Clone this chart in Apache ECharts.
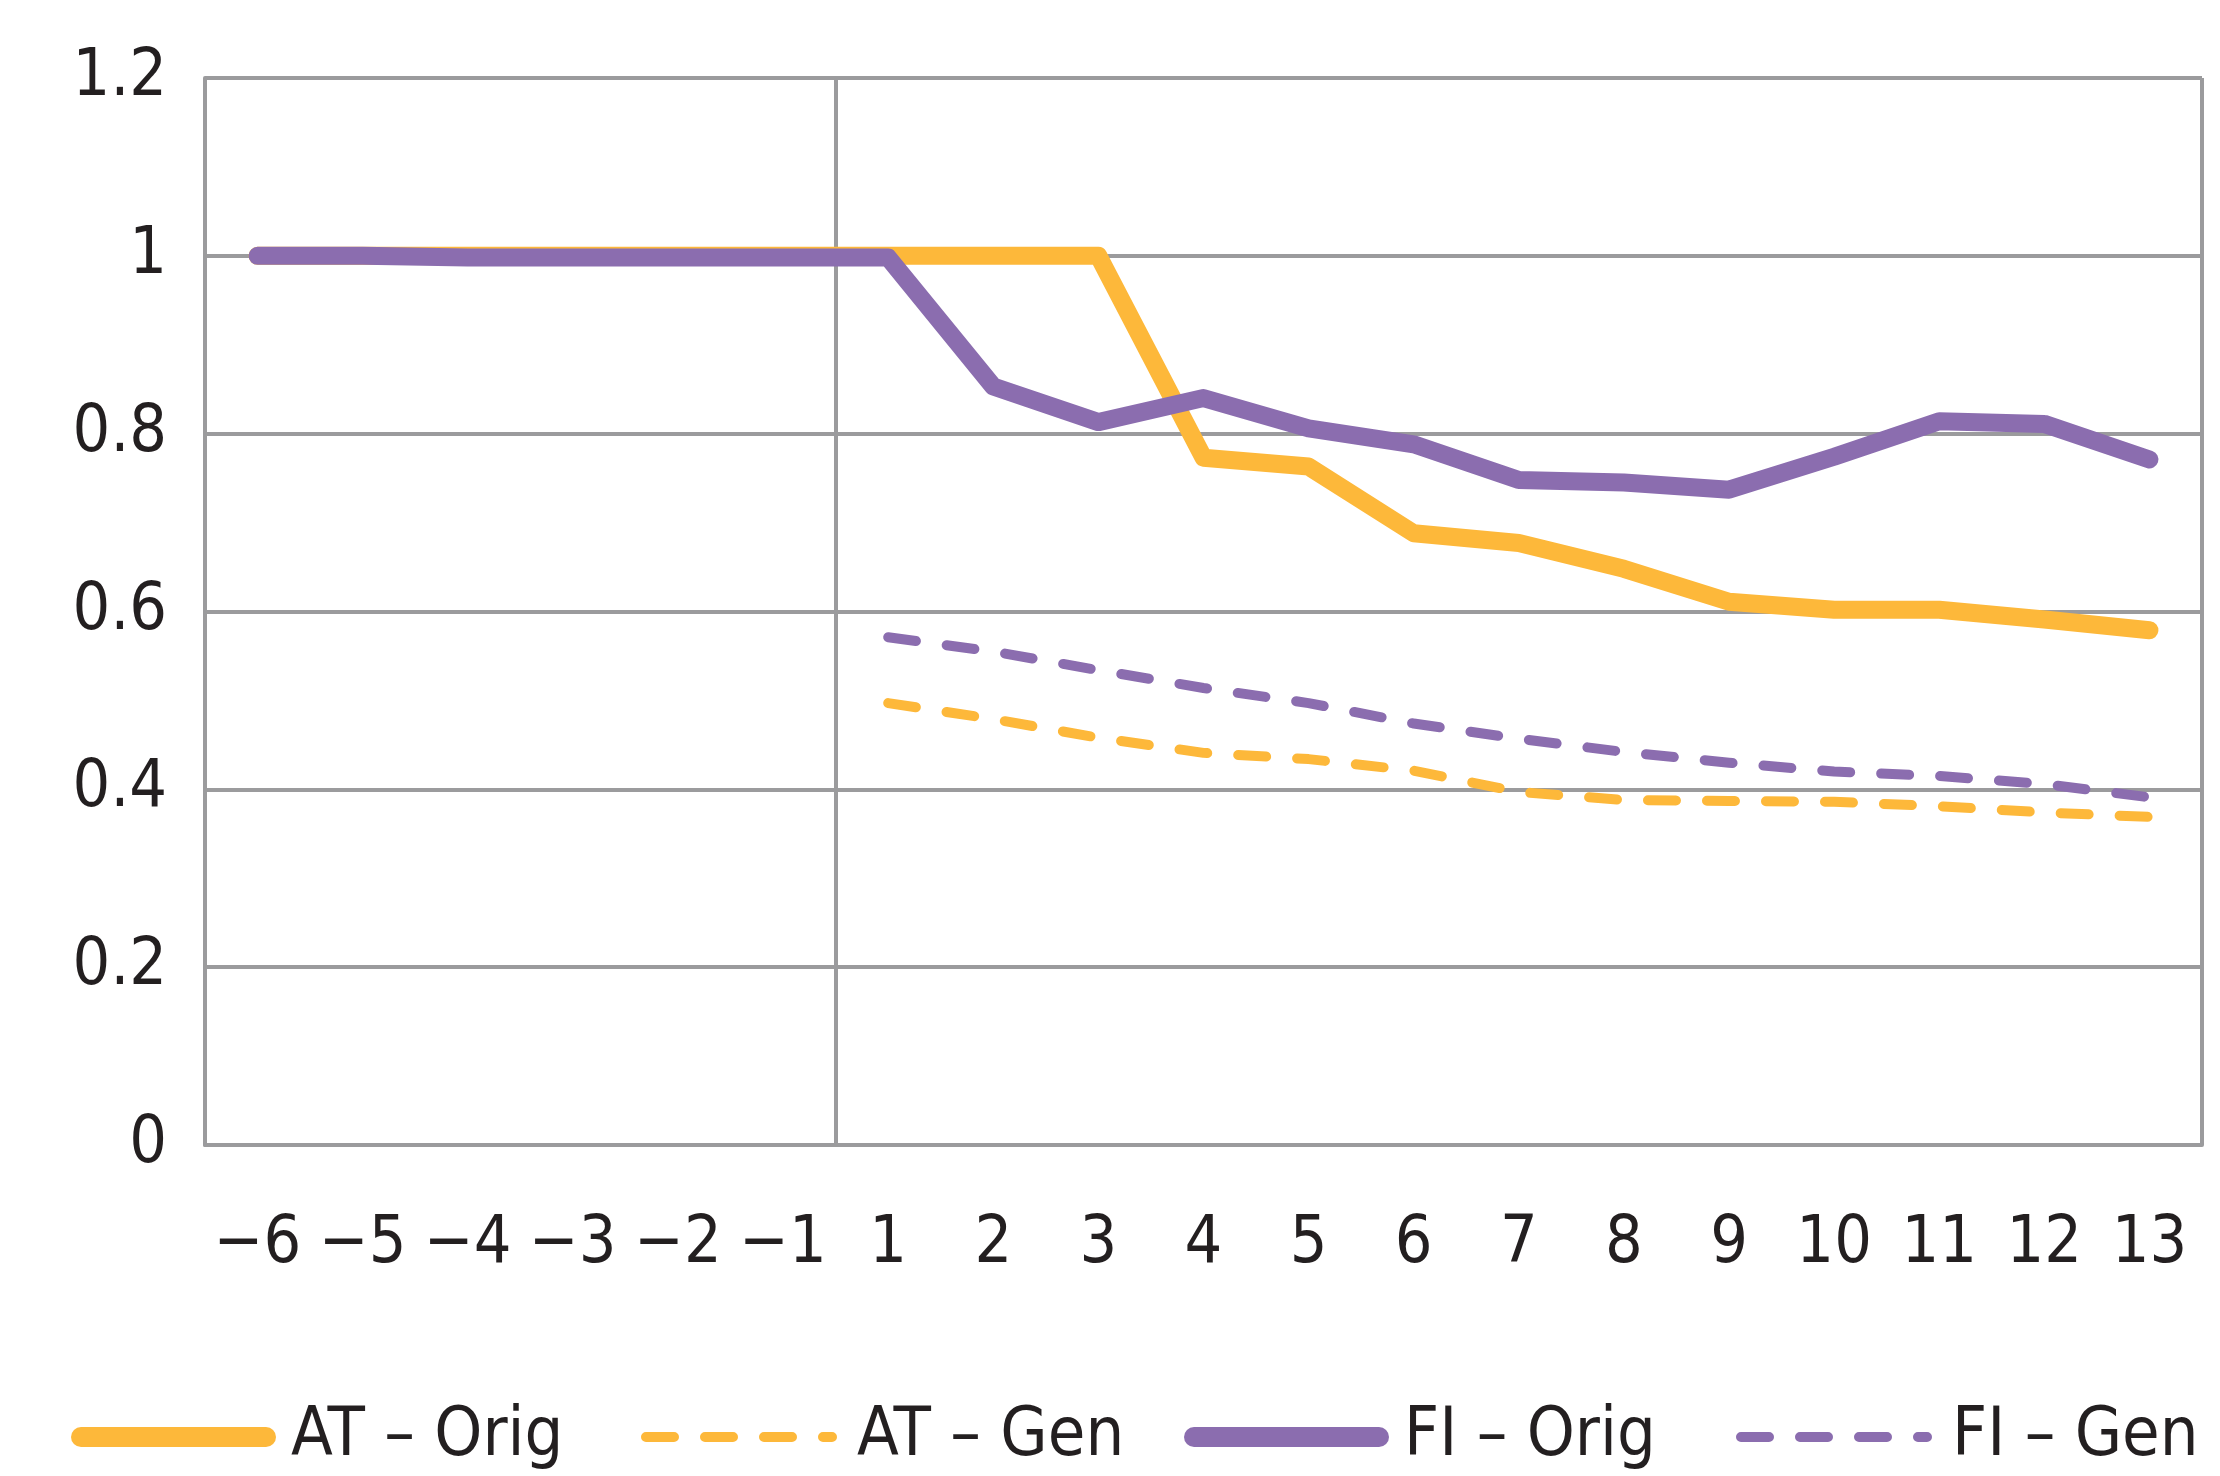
<!DOCTYPE html>
<html>
<head>
<meta charset="utf-8">
<script src="https://cdn.jsdelivr.net/npm/echarts@6/dist/echarts.min.js"></script>
<style>
html,body{margin:0;padding:0;background:#fff;}
#chart{width:2220px;height:1476px;}
</style>
</head>
<body>
<div id="chart"></div>
<script>
const categories = ['\u22126','\u22125','\u22124','\u22123','\u22122','\u22121','1','2','3','4','5','6','7','8','9','10','11','12','13'];
const atOrig = [1,1,1,1,1,1,1,1,1,0.773,0.763,0.688,0.677,0.648,0.611,0.602,0.602,0.591,0.579];
const atGen  = [null,null,null,null,null,null,0.497,0.479,0.458,0.441,0.434,0.421,0.397,0.388,0.387,0.386,0.381,0.374,0.369];
const fiOrig = [1,1,0.998,0.998,0.998,0.998,0.998,0.853,0.813,0.840,0.806,0.788,0.748,0.745,0.737,0.774,0.814,0.811,0.771];
const fiGen  = [null,null,null,null,null,null,0.571,0.555,0.534,0.514,0.497,0.474,0.457,0.442,0.430,0.420,0.415,0.406,0.391];
const seriesNames = ['AT \u2013 Orig','AT \u2013 Gen','FI \u2013 Orig','FI \u2013 Gen'];

const ORANGE = '#FDB83A';
const PURPLE = '#8B6DAF';
const GRAY = '#9B9B9D';
const TEXT = '#231F20';
const FONT = "'DejaVu Sans Condensed', 'Liberation Sans Narrow', sans-serif";
const DASH = [28, 31];

const chart = echarts.init(document.getElementById('chart'), null, {renderer: 'canvas'});

function legendFor(name, left, width, dashed) {
  return {
    data: [name],
    left: left,
    top: 1403,
    padding: 0,
    itemWidth: dashed ? 186 : 185,
    itemHeight: 20,
    selectedMode: false,
    itemStyle: {color: 'rgba(0,0,0,0)', borderWidth: 0, opacity: 0},
    lineStyle: {width: width, type: dashed ? DASH : 'solid', cap: 'round'},
    textStyle: {fontFamily: FONT, fontSize: 68, color: TEXT, padding: [8, 0, 0, 20]}
  };
}

const option = {
  backgroundColor: '#fff',
  animation: false,
  grid: {left: 205, right: 18, top: 78, bottom: 331, containLabel: false, outerBoundsMode: 'none'},
  xAxis: {
    type: 'category',
    data: categories,
    boundaryGap: true,
    axisLine: {show: true, lineStyle: {color: GRAY, width: 4}},
    axisTick: {show: false},
    axisLabel: {interval: 0, margin: 67, fontFamily: FONT, fontSize: 66, color: TEXT},
    splitLine: {
      show: true,
      interval: function (idx) { return idx === 0 || idx === 6; },
      lineStyle: {color: GRAY, width: 4}
    }
  },
  yAxis: {
    type: 'value',
    min: 0,
    max: 1.2,
    interval: 0.2,
    axisLine: {show: true, lineStyle: {color: GRAY, width: 4}},
    axisTick: {show: false},
    axisLabel: {margin: 38, fontFamily: FONT, fontSize: 66, color: TEXT, padding: [8, 0, 0, 0],
      formatter: function (v) { return String(Math.round(v * 10) / 10); }},
    splitLine: {show: true, lineStyle: {color: GRAY, width: 4}}
  },
  legend: [
    legendFor(seriesNames[0], 71, 20, false),
    legendFor(seriesNames[1], 641, 10, true),
    legendFor(seriesNames[2], 1184, 20, false),
    legendFor(seriesNames[3], 1736, 10, true)
  ],
  series: [
    {name: seriesNames[0], type: 'line', data: atOrig, symbol: 'none', showSymbol: false, color: ORANGE,
     lineStyle: {color: ORANGE, width: 18, cap: 'round', join: 'round'}},
    {name: seriesNames[1], type: 'line', data: atGen, symbol: 'none', showSymbol: false, color: ORANGE,
     lineStyle: {color: ORANGE, width: 10, type: DASH, cap: 'round', join: 'round'}},
    {name: seriesNames[2], type: 'line', data: fiOrig, symbol: 'none', showSymbol: false, color: PURPLE,
     lineStyle: {color: PURPLE, width: 18, cap: 'round', join: 'round'}},
    {name: seriesNames[3], type: 'line', data: fiGen, symbol: 'none', showSymbol: false, color: PURPLE,
     lineStyle: {color: PURPLE, width: 10, type: DASH, cap: 'round', join: 'round'}}
  ]
};
chart.setOption(option);
</script>
</body>
</html>
